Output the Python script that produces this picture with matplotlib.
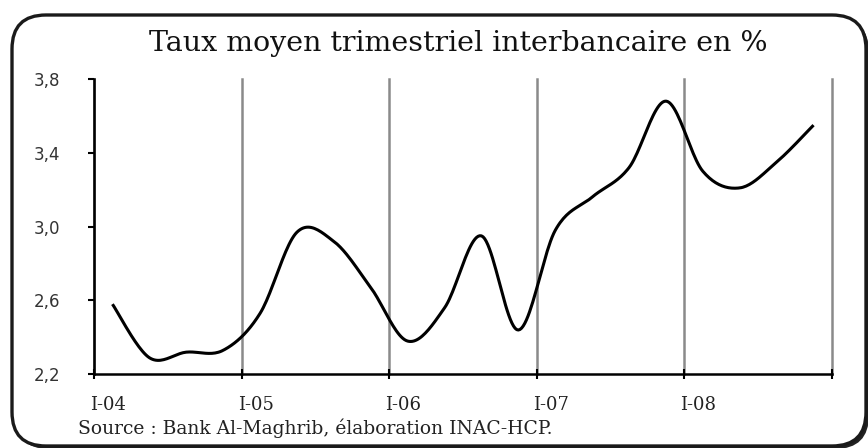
import numpy as np
import matplotlib
matplotlib.use("Agg")
import matplotlib.pyplot as plt
from matplotlib.patches import FancyBboxPatch
from matplotlib.transforms import IdentityTransform, ScaledTranslation


# ── Data (quarterly, I-04 .. IV-08) ───────────────────────────────────────
TAUX = [2.58, 2.29, 2.32, 2.33,
        2.53, 2.97, 2.92, 2.67,
        2.38, 2.56, 2.95, 2.44,
        2.98, 3.16, 3.32, 3.68,
        3.30, 3.21, 3.35, 3.55]
YEAR_LABELS = ["I-04", "I-05", "I-06", "I-07", "I-08"]
Y_TICKS     = [2.2, 2.6, 3.0, 3.4, 3.8]

TITLE  = "Taux moyen trimestriel interbancaire en %"
SOURCE = "Source : Bank Al-Maghrib, élaboration INAC-HCP."


def smooth_line(x, y, n=24):
    # Excel-like smoothed line (Catmull-Rom through every point)
    x = np.asarray(x, float)
    y = np.asarray(y, float)
    px = np.concatenate([[x[0]], x, [x[-1]]])
    py = np.concatenate([[y[0]], y, [y[-1]]])
    xs, ys = [], []
    t = np.linspace(0, 1, n)
    for i in range(1, len(px) - 2):
        p0x, p1x, p2x, p3x = px[i - 1], px[i], px[i + 1], px[i + 2]
        p0y, p1y, p2y, p3y = py[i - 1], py[i], py[i + 1], py[i + 2]
        c1x, c1y = p1x + (p2x - p0x) / 6, p1y + (p2y - p0y) / 6
        c2x, c2y = p2x - (p3x - p1x) / 6, p2y - (p3y - p1y) / 6
        b0 = (1 - t) ** 3
        b1 = 3 * (1 - t) ** 2 * t
        b2 = 3 * (1 - t) * t ** 2
        b3 = t ** 3
        xs.append(b0 * p1x + b1 * c1x + b2 * c2x + b3 * p2x)
        ys.append(b0 * p1y + b1 * c1y + b2 * c2y + b3 * p2y)
    return np.concatenate(xs), np.concatenate(ys)


W, H = 868, 448
fig = plt.figure(figsize=(W / 100, H / 100), dpi=100)
fig.patch.set_facecolor("white")

# ── rounded frame with a little shadow ────────────────────────────────────
shadow = FancyBboxPatch((15, -1), 854, 431,
                        boxstyle="round,pad=0,rounding_size=34",
                        transform=IdentityTransform(),
                        facecolor="#222222", edgecolor="none", zorder=0)
frame = FancyBboxPatch((12, 2), 854, 431,
                       boxstyle="round,pad=0,rounding_size=34",
                       transform=IdentityTransform(),
                       facecolor="white", edgecolor="#1a1a1a",
                       linewidth=2.4, zorder=1)
fig.patches.extend([shadow, frame])

ax = fig.add_axes([94 / W, 1 - 374.3 / H, (832 - 94) / W, (374.3 - 79) / H])
ax.set_facecolor("none")
ax.set_zorder(2)

x = np.arange(len(TAUX)) + 0.5
sx, sy = smooth_line(x, TAUX)
ax.plot(sx, sy, color="black", linewidth=2.2, solid_capstyle="butt", zorder=3)

ax.set_xlim(0, len(TAUX))
ax.set_ylim(Y_TICKS[0], Y_TICKS[-1])

# year ticks every 4 quarters, labels sit just right of each tick
year_ticks = np.arange(0, len(TAUX) + 1, 4)
ax.set_xticks(year_ticks)
ax.set_xticklabels([])
lab_tr = ax.get_xaxis_transform() + ScaledTranslation(-4 / 100, 0,
                                                      fig.dpi_scale_trans)
for tick, label in zip(year_ticks, YEAR_LABELS):
    ax.text(tick, -0.105, label, transform=lab_tr, family="DejaVu Serif",
            fontsize=13, color="#222222", ha="left", va="center")

ax.set_yticks(Y_TICKS)
ax.set_yticklabels([f"{v:.1f}".replace(".", ",") for v in Y_TICKS],
                   family="DejaVu Sans", fontsize=12, color="#333333")

ax.tick_params(axis="x", direction="inout", length=7, width=1.5)
ax.tick_params(axis="y", direction="out", length=4, width=1.5, pad=20)

ax.grid(axis="x", color="#8a8a8a", linewidth=1.8)
ax.grid(axis="y", visible=False)
ax.set_axisbelow(True)
for gl in ax.get_xgridlines():
    gl.set_clip_on(False)

for side in ("top", "right"):
    ax.spines[side].set_visible(False)
for side in ("left", "bottom"):
    ax.spines[side].set_linewidth(1.8)
    ax.spines[side].set_color("black")

fig.text(458.5 / W, 1 - 51 / H, TITLE, family="DejaVu Serif", fontsize=20.5,
         ha="center", va="baseline", color="#111111")
fig.text(78 / W, 1 - 434 / H, SOURCE, family="DejaVu Serif", fontsize=13.5,
         ha="left", va="baseline", color="#222222")

fig.savefig("out.png", dpi=100, facecolor="white")
